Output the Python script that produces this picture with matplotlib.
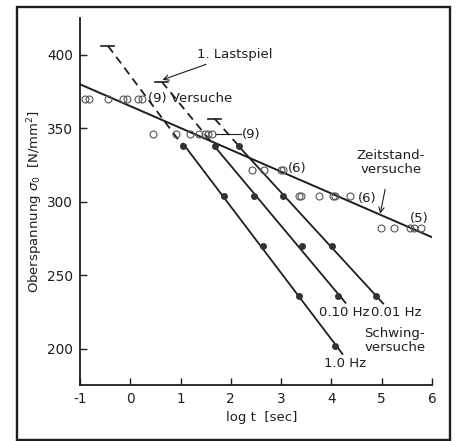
import numpy as np
import matplotlib
matplotlib.use("Agg")
import matplotlib.pyplot as plt
from matplotlib.patches import Rectangle

plt.rcParams["font.family"] = ["DejaVu Sans"]
plt.rcParams["axes.unicode_minus"] = False
INK = "#1e1e1e"

# creep tests (Zeitstandversuche): log t [sec] vs upper stress [N/mm2]
creep_logt = [-0.90, -0.82, -0.44, -0.14, -0.07, 0.15, 0.23,
              0.45, 0.91, 1.19, 1.37, 1.49, 1.55, 1.62,
              2.42, 2.66, 3.00, 3.03,
              3.35, 3.39, 3.75, 4.03, 4.07, 4.38,
              4.98, 5.24, 5.56, 5.64, 5.78]
creep_stress = [370, 370, 370, 370, 370, 370, 370,
                346, 346, 346, 346, 346, 346, 346,
                322, 322, 322, 322,
                304, 304, 304, 304, 304, 304,
                282, 282, 282, 282, 282]
# creep regression line, end points
zeit_logt = [-1.0, 6.0]
zeit_stress = [380, 276]

# fatigue tests (Schwingversuche) per load frequency
freq_labels = ["1.0 Hz", "0.10 Hz", "0.01 Hz"]
fat_logt = [[1.05, 1.86, 2.64, 3.35, 4.07],
            [1.68, 2.46, 3.41, 4.13],
            [2.16, 3.04, 4.01, 4.88]]
fat_stress = [[338, 304, 270, 236, 202],
              [338, 304, 270, 236],
              [338, 304, 270, 236]]
# first load cycle (1. Lastspiel)
first_logt = [-0.44, 0.63, 1.68]
first_stress = [406, 381.6, 356.5]

fig = plt.figure(figsize=(4.62, 4.41), dpi=100)
fig.patch.set_facecolor("white")
ax = fig.add_axes([0.173, 0.127, 0.762, 0.832])
fig.patches.append(Rectangle((0.037, 0.003), 0.937, 0.981, transform=fig.transFigure,
                             fill=False, lw=1.7, ec=INK))

ax.plot(creep_logt, creep_stress, "o", mfc="none", mec="#555", ms=5, mew=0.8, zorder=3)
ax.plot(zeit_logt, zeit_stress, color=INK, lw=1.4, zorder=2)

for xs, ys, x0, y0 in zip(fat_logt, fat_stress, first_logt, first_stress):
    k, d = np.polyfit(xs, ys, 1)
    xe = np.array([xs[0], xs[-1] + 0.15])
    ax.plot(xe, k * xe + d, color=INK, lw=1.3, zorder=2)
    ax.plot([x0, xs[0]], [y0, ys[0]], color=INK, lw=1.3, ls=(0, (4.5, 3)), zorder=2)
    ax.plot([x0 - 0.14, x0 + 0.12], [y0, y0], color=INK, lw=1.2, zorder=2)
    ax.plot(xs, ys, "o", color="#333", ms=4, zorder=4)

fs = 9.5
ax.text(0.36, 370, "(9) Versuche", fontsize=fs, va="center", color=INK)
ax.plot([1.68, 2.20], [346, 346], color=INK, lw=0.8)
ax.text(2.23, 346, "(9)", fontsize=fs, va="center", color=INK)
ax.text(3.13, 322.5, "(6)", fontsize=fs, va="center", color=INK)
ax.text(4.52, 302, "(6)", fontsize=fs, va="center", color=INK)
ax.text(5.56, 289, "(5)", fontsize=fs, va="center", color=INK)
ax.annotate("1. Lastspiel", xy=(0.64, 383), xytext=(1.33, 400.5), fontsize=fs,
            va="center", color=INK,
            arrowprops=dict(arrowstyle="->", color=INK, lw=0.8, shrinkA=2, shrinkB=0))
ax.annotate("Zeitstand-\nversuche", xy=(4.97, 292), xytext=(5.18, 327), fontsize=fs,
            ha="center", va="center", color=INK, linespacing=1.1,
            arrowprops=dict(arrowstyle="->", color=INK, lw=0.8, shrinkA=8, shrinkB=0))
ax.text(4.25, 225, freq_labels[1], fontsize=fs, ha="center", va="center", color=INK)
ax.text(5.28, 225, freq_labels[2], fontsize=fs, ha="center", va="center", color=INK)
ax.text(5.26, 206, "Schwing-\nversuche", fontsize=fs, ha="center", va="center",
        color=INK, linespacing=1.1)
ax.text(4.28, 190, freq_labels[0], fontsize=fs, ha="center", va="center", color=INK)

ax.set_xlim(-1, 6)
ax.set_ylim(175.5, 425)
ax.set_xticks(range(-1, 7))
ax.set_yticks(range(200, 401, 50))
ax.tick_params(direction="in", length=5, width=1, labelsize=fs + 0.3, colors=INK,
               pad=5)
for s in ("top", "right"):
    ax.spines[s].set_visible(False)
for s in ("left", "bottom"):
    ax.spines[s].set_linewidth(1.3)
    ax.spines[s].set_color(INK)

ax.set_xlabel("log t  [sec]", fontsize=fs, color=INK)
ax.xaxis.set_label_coords(0.517, -0.07)
ax.set_ylabel(r"Oberspannung $\sigma_0$  [N/mm$^2$]", fontsize=fs, color=INK)
ax.yaxis.set_label_coords(-0.098, 0.5)

fig.savefig("out.png", dpi=100, facecolor="white")
